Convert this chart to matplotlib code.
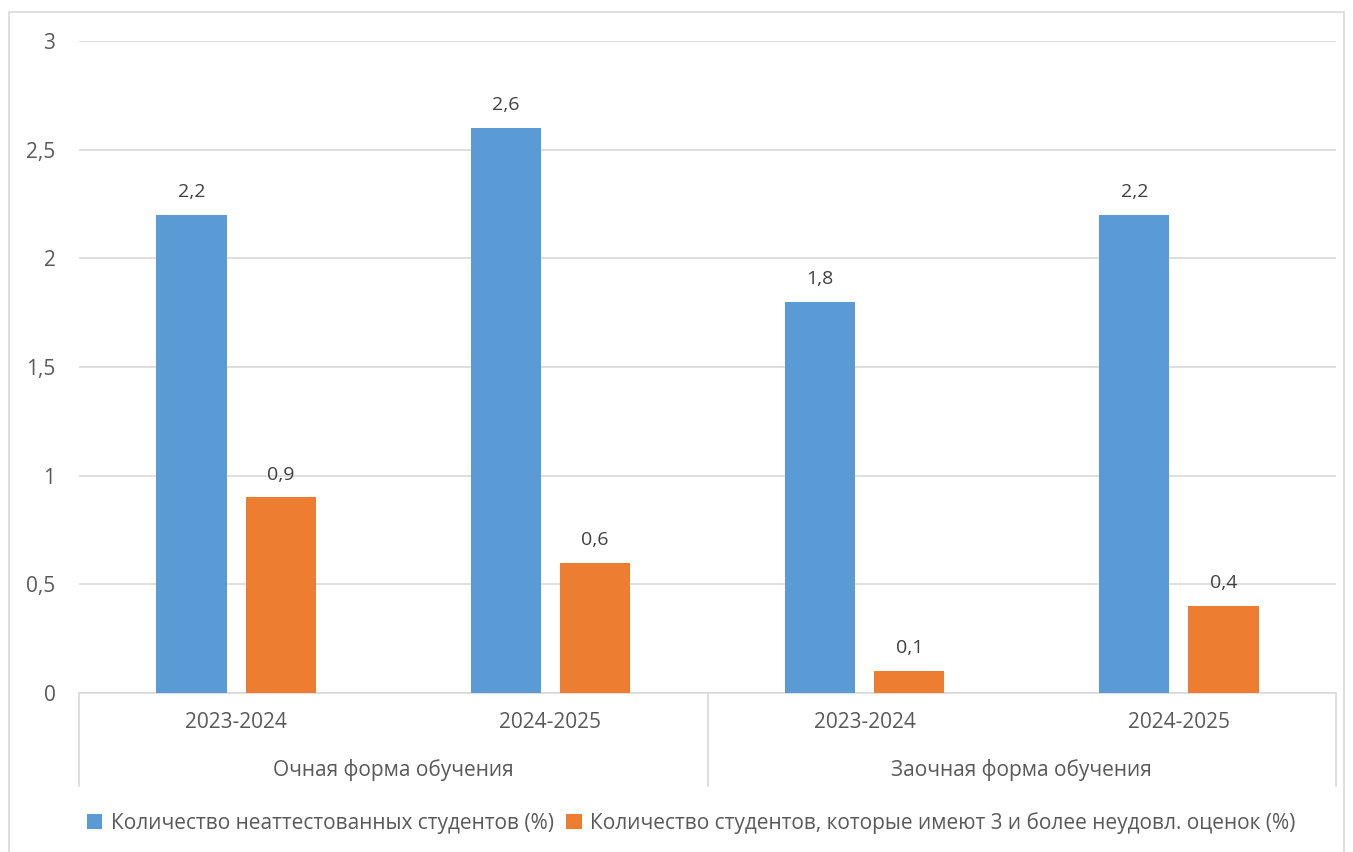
import matplotlib.pyplot as plt
from matplotlib.lines import Line2D
from matplotlib.patches import Rectangle
import numpy as np

plt.rcParams['font.family'] = ['Open Sans', 'DejaVu Sans']

years = ["2023-2024", "2024-2025", "2023-2024", "2024-2025"]
groups = ["Очная форма обучения", "Заочная форма обучения"]
not_attested = [2.2, 2.6, 1.8, 2.2]
three_plus_fails = [0.9, 0.6, 0.1, 0.4]
series_names = [
    "Количество неаттестованных студентов (%)",
    "Количество студентов, которые имеют 3 и более неудовл. оценок (%)",
]

BLUE = "#5B9BD5"
ORANGE = "#ED7D31"
TEXT = "#595959"
GRID = "#D9D9D9"
FS = 15

fig = plt.figure(figsize=(13.53, 8.52), dpi=100)
fig.patches.append(Rectangle((9 / 1353, -0.01), 1335 / 1353, 1 - 12 / 852 + 0.01,
                             transform=fig.transFigure, fill=False,
                             edgecolor=GRID, linewidth=1.2))
ax = fig.add_axes([79 / 1353, 1 - 693 / 852, (1336 - 79) / 1353, (693 - 41) / 852])

x = np.arange(len(years))
width = 0.223
off = 0.142
b1 = ax.bar(x - off, not_attested, width, color=BLUE, label=series_names[0], zorder=3)
b2 = ax.bar(x + off, three_plus_fails, width, color=ORANGE, label=series_names[1], zorder=3)

for bars in (b1, b2):
    for rect in bars:
        h = rect.get_height()
        ax.annotate(f"{h:.1f}".replace(".", ","), (rect.get_x() + rect.get_width() / 2, h),
                    xytext=(0, 10), textcoords="offset points", ha="center", va="bottom",
                    fontsize=14, color="#404040")

ax.set_xlim(-0.5, len(years) - 0.5)
ax.set_ylim(0, 3)
yt = np.arange(0, 3.01, 0.5)
ax.set_yticks(yt)
ax.set_yticklabels([f"{v:g}".replace(".", ",") for v in yt], fontsize=FS, color=TEXT)
ax.tick_params(axis="y", length=0, pad=17)
ax.yaxis.grid(True, color=GRID, linewidth=1.2, zorder=0)
ax.set_axisbelow(True)
for s in ("top", "right", "left"):
    ax.spines[s].set_visible(False)
ax.spines["bottom"].set_color(GRID)
ax.spines["bottom"].set_linewidth(1.2)

ax.set_xticks(x)
ax.set_xticklabels(years, fontsize=FS, color=TEXT)
ax.tick_params(axis="x", length=0, pad=14)

# group labels and separators below the axis
trans = ax.get_xaxis_transform()
for i, g in enumerate(groups):
    ax.text(2 * i + 0.5, -0.118, g, transform=trans, ha="center", va="center",
            fontsize=FS, color=TEXT)
for xv in (-0.5, 1.5, 3.5):
    ax.add_line(Line2D([xv, xv], [0, -0.142], transform=trans, color=GRID,
                       linewidth=1.2, clip_on=False))

fig.legend(handles=[b1, b2], loc="center", bbox_to_anchor=(691 / 1353, 1 - 823 / 852),
           ncol=2, frameon=False, fontsize=FS, handlelength=0.75, handleheight=0.75,
           handletextpad=0.4, columnspacing=0.6, labelcolor=TEXT)

fig.savefig("out.png", dpi=100)
